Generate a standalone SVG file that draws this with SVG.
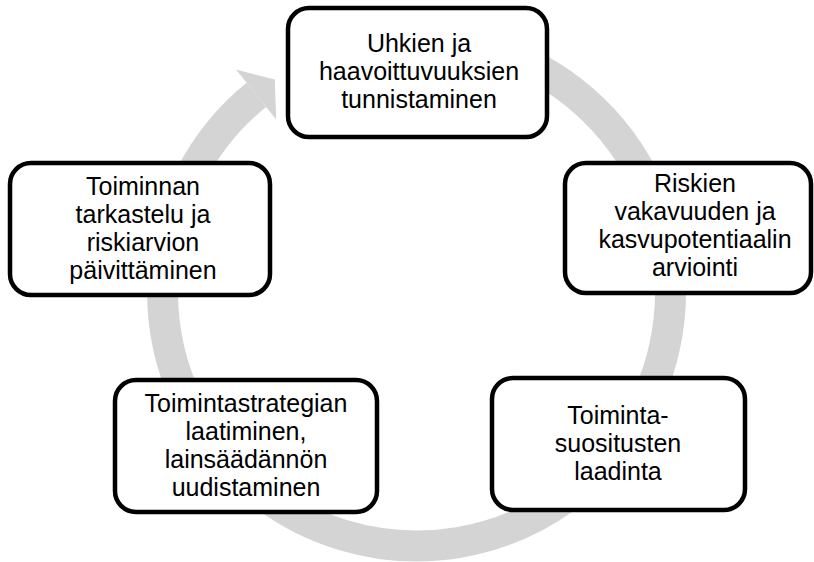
<svg xmlns="http://www.w3.org/2000/svg" width="814" height="562" viewBox="0 0 814 562">
<style>
.box{fill:#ffffff;stroke:#000000;stroke-width:4.5}
.t{font-family:"Liberation Sans",Arial,sans-serif;font-size:25px;fill:#000000;text-anchor:middle}
.ring{fill:none;stroke:#d4d4d4;stroke-width:31}
</style>
<rect width="814" height="562" fill="#ffffff"/>
<g id="connectors">
<path class="ring" d="M 503.4 53.3 A 254 254 0 1 1 256.3 94.9"/>
<polygon points="236,69.5 274.8,79.6 276.2,119.5" fill="#d4d4d4"/>
</g>
<g id="node-uhkien">
<rect class="box" x="288" y="8" width="259" height="129" rx="21"/>
<text class="t"><tspan x="419" y="52">Uhkien ja</tspan><tspan x="419" y="80">haavoittuvuuksien</tspan><tspan x="419" y="108">tunnistaminen</tspan></text>
</g>
<g id="node-riskien">
<rect class="box" x="565" y="163" width="246" height="130" rx="21"/>
<text class="t"><tspan x="695" y="191.5">Riskien</tspan><tspan x="695" y="219.5">vakavuuden ja</tspan><tspan x="695" y="247.5">kasvupotentiaalin</tspan><tspan x="695" y="275.5">arviointi</tspan></text>
</g>
<g id="node-suositukset">
<rect class="box" x="492" y="378" width="253" height="132" rx="21"/>
<text class="t"><tspan x="618" y="424">Toiminta-</tspan><tspan x="618" y="452">suositusten</tspan><tspan x="618" y="480">laadinta</tspan></text>
</g>
<g id="node-strategia">
<rect class="box" x="115" y="380" width="262" height="132" rx="21"/>
<text class="t"><tspan x="246" y="411.5">Toimintastrategian</tspan><tspan x="246" y="439.5">laatiminen,</tspan><tspan x="246" y="467.5">lainsäädännön</tspan><tspan x="246" y="495.5">uudistaminen</tspan></text>
</g>
<g id="node-tarkastelu">
<rect class="box" x="10" y="163" width="260" height="132" rx="21"/>
<text class="t"><tspan x="143" y="194.5">Toiminnan</tspan><tspan x="143" y="222.5">tarkastelu ja</tspan><tspan x="143" y="250.5">riskiarvion</tspan><tspan x="143" y="278.5">päivittäminen</tspan></text>
</g>
</svg>
